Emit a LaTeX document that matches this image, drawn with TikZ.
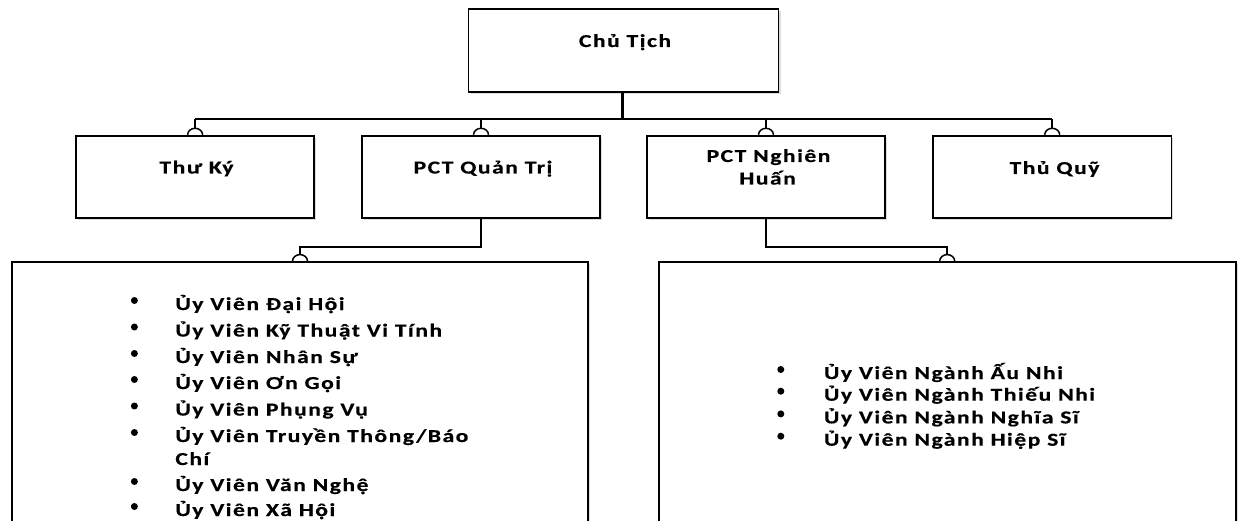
\documentclass[tikz,border=0pt]{standalone}
\usepackage{fontspec}
\setmainfont{Carlito}[FakeStretch=1.3,LetterSpace=8,BoldFeatures={FakeBold=0.4}]
\usetikzlibrary{shadows}
\begin{document}
\begin{tikzpicture}[x=1pt,y=-1pt,
  box/.style={draw=black,line width=1.8pt,fill=white,inner sep=0pt,
    drop shadow={shadow xshift=2pt,shadow yshift=-2pt,opacity=0.22,fill=black!60}},
  txt/.style={font=\fontsize{18.2}{21}\selectfont\bfseries,inner sep=0pt,anchor=base},
  itm/.style={txt,anchor=base west},
  dot/.style={circle,fill=black,inner sep=0pt,minimum size=7pt},
  conn/.style={line width=1.5pt},
  hop/.style={line width=1.5pt},
]
\useasboundingbox (0,0) rectangle (1238,521);
\fill[white] (0,0) rectangle (1238,521);

% boxes
\node[box,minimum width=310pt,minimum height=82.7pt] (chu) at (623.5,50.65) {};
\node[box,minimum width=238.5pt,minimum height=82.3pt] (thuky) at (195.1,176.85) {};
\node[box,minimum width=238.5pt,minimum height=82.3pt] (pctqt) at (481,176.85) {};
\node[box,minimum width=238.5pt,minimum height=82.3pt] (pctnh) at (766,176.85) {};
\node[box,minimum width=238.5pt,minimum height=82.3pt] (thuquy) at (1052.2,176.85) {};
\node[box,minimum width=576pt,minimum height=338pt] (left) at (300,431) {};
\node[box,minimum width=577pt,minimum height=338pt] (right) at (947.2,431) {};

% connectors
\coordinate (bus) at (622,119);
\draw[line width=3pt] (chu.south -| bus) -- (bus);
\draw[conn] (thuky.north |- bus) -- (thuquy.north |- bus);
\foreach \b in {thuky,pctqt,pctnh,thuquy}{
  \draw[conn] (\b.north |- bus) -- ([yshift=6.5pt]\b.north);
  \draw[hop] ([xshift=-7.5pt]\b.north) arc[start angle=180,end angle=0,x radius=7.5pt,y radius=6.5pt];
}
\draw[conn] (pctqt.south) -- ++(0,28) -| ([yshift=6.5pt]left.north);
\draw[hop] ([xshift=-7.5pt]left.north) arc[start angle=180,end angle=0,x radius=7.5pt,y radius=6.5pt];
\draw[conn] (pctnh.south) -- ++(0,28) -| ([yshift=6.5pt]right.north);
\draw[hop] ([xshift=-7.5pt]right.north) arc[start angle=180,end angle=0,x radius=7.5pt,y radius=6.5pt];

% titles
\node[txt] (chu-t) at (625,47) {Chủ Tịch};
\node[txt] (thuky-t) at (196.5,173.5) {Thư Ký};
\node[txt] (pctqt-t) at (483,173.5) {PCT Quản Trị};
\node[txt] (pctnh-t1) at (768.5,162) {PCT Nghiên};
\node[txt] (pctnh-t2) at (767.6,184.5) {Huấn};
\node[txt] (thuquy-t) at (1054.5,174) {Thủ Quỹ};

% left list
\node[dot] (lb1) at (134.4,300.5) {};
\node[itm] (li1) at (175.2,310) {Ủy Viên Đại Hội};
\node[dot] (lb2) at (134.4,327) {};
\node[itm] (li2) at (175.2,336.5) {Ủy Viên Kỹ Thuật Vi Tính};
\node[dot] (lb3) at (134.4,353.5) {};
\node[itm] (li3) at (175.2,363) {Ủy Viên Nhân Sự};
\node[dot] (lb4) at (134.4,379.5) {};
\node[itm] (li4) at (175.2,389) {Ủy Viên Ơn Gọi};
\node[dot] (lb5) at (134.4,406) {};
\node[itm] (li5) at (175.2,415.5) {Ủy Viên Phụng Vụ};
\node[dot] (lb6) at (134.4,432.5) {};
\node[itm] (li6) at (175.2,442) {Ủy Viên Truyền Thông/Báo};
\node[itm] (li6b) at (175.2,465) {Chí};
\node[dot] (lb7) at (134.4,481.5) {};
\node[itm] (li7) at (175.2,491) {Ủy Viên Văn Nghệ};
\node[dot] (lb8) at (134.4,506.5) {};
\node[itm] (li8) at (175.2,516) {Ủy Viên Xã Hội};

% right list
\node[dot] (rb1) at (780.8,369.5) {};
\node[itm] (ri1) at (823.8,379) {Ủy Viên Ngành Ấu Nhi};
\node[dot] (rb2) at (780.8,391.2) {};
\node[itm] (ri2) at (823.8,400.7) {Ủy Viên Ngành Thiếu Nhi};
\node[dot] (rb3) at (780.8,413.9) {};
\node[itm] (ri3) at (823.8,423.4) {Ủy Viên Ngành Nghĩa Sĩ};
\node[dot] (rb4) at (780.8,436.2) {};
\node[itm] (ri4) at (823.8,445.7) {Ủy Viên Ngành Hiệp Sĩ};
\end{tikzpicture}
\end{document}
